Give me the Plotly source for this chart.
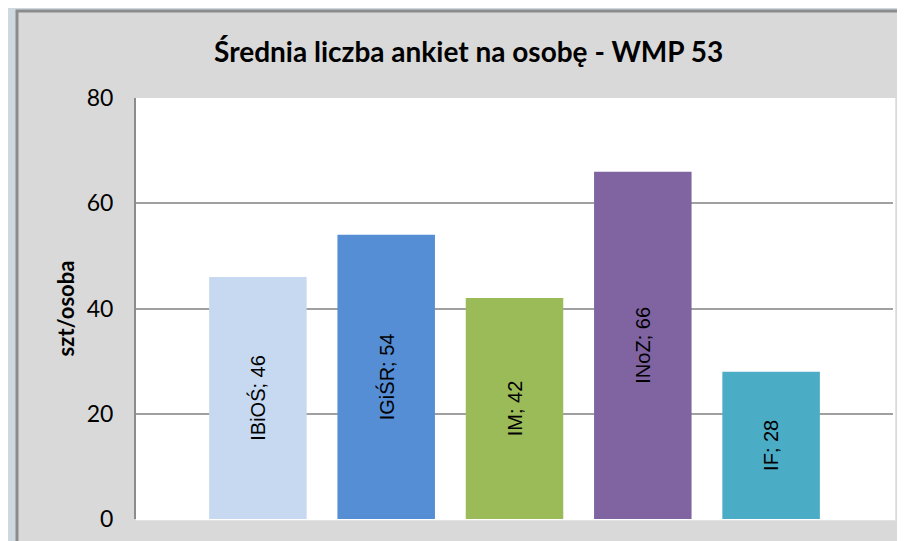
import plotly.graph_objects as go

# dane
categories = ['IBiOŚ', 'IGiŚR', 'IM', 'INoZ', 'IF']
values = [46, 54, 42, 66, 28]
colors = ['#c6d9f1', '#558ed5', '#9bbb59', '#8064a2', '#4bacc6']

labels = [f'{c}; {v}' for c, v in zip(categories, values)]

fig = go.Figure()

fig.add_trace(go.Bar(
    x=categories, y=values,
    marker_color=colors, marker_line_width=0,
    width=0.76,
    text=labels, textposition='inside', textangle=-90,
    insidetextanchor='middle',
    textfont=dict(family='Liberation Sans, Arial', size=20, color='black'),
    hoverinfo='x+y',
))

# szare tło wykresu + biały obszar kreślenia
fig.add_shape(type='rect', xref='paper', yref='paper',
              x0=-0.1572, x1=1.1, y0=-0.2, y1=1.2067,
              fillcolor='#d9d9d9', line=dict(color='#8c8c8c', width=3), layer='below')
fig.add_shape(type='rect', xref='paper', yref='paper',
              x0=0, x1=1.003, y0=-0.003, y1=1,
              fillcolor='white', line_width=0, layer='below')

# strona ma 8 px marginesu body, stąd przesunięcie
fig.update_layout(
    width=905, height=541,
    margin=dict(l=128, r=20, t=90, b=30),
    paper_bgcolor='#cdd8df',
    plot_bgcolor='rgba(0,0,0,0)',
    showlegend=False,
    uniformtext=dict(minsize=20, mode='show'),
    title=dict(text='<b>Średnia liczba ankiet na osobę - WMP 53</b>',
               x=0.509, xanchor='center', y=0.919, yanchor='middle',
               font=dict(family='Lato, Open Sans', size=28, color='black')),
    font=dict(family='Lato, Liberation Sans', color='black'),
)

fig.update_xaxes(range=[-0.95, 4.95], showticklabels=False, showgrid=False,
                 zeroline=False, showline=False, automargin=False)
fig.update_yaxes(range=[0, 80], tickvals=[0, 20, 40, 60, 80],
                 tickfont=dict(size=23), ticks='', ticklabelstandoff=16,
                 showgrid=True, gridcolor='#a0a0a0', gridwidth=1.5,
                 zeroline=False, showline=True, linecolor='#8c8c8c', linewidth=2,
                 automargin=False,
                 title=dict(text='<b>szt/osoba</b>', standoff=6,
                            font=dict(size=22)))

fig.write_html('out.html')
